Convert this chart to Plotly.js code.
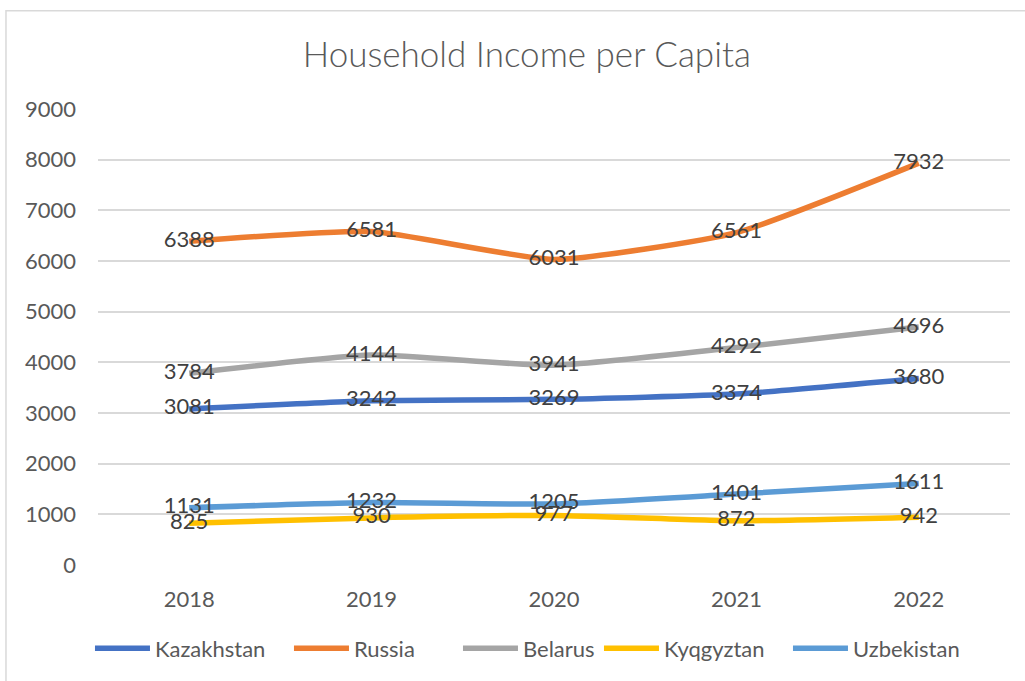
<!DOCTYPE html>
<html>
<head>
<meta charset="utf-8">
<script src="https://cdn.plot.ly/plotly-3.0.1.min.js"></script>
<style>
html,body{margin:0;padding:0;background:#fff;}
#chart{width:1025px;height:681px;}
</style>
</head>
<body>
<div id="chart"></div>
<script>
const years = ['2018', '2019', '2020', '2021', '2022'];
const kazakhstan = [3081, 3242, 3269, 3374, 3680];
const russia = [6388, 6581, 6031, 6561, 7932];
const belarus = [3784, 4144, 3941, 4292, 4696];
const kyqgyztan = [825, 930, 977, 872, 942];
const uzbekistan = [1131, 1232, 1205, 1401, 1611];

const seriesNames = ['Kazakhstan', 'Russia', 'Belarus', 'Kyqgyztan', 'Uzbekistan'];
const seriesValues = [kazakhstan, russia, belarus, kyqgyztan, uzbekistan];
const seriesColors = ['#4472C4', '#ED7D31', '#A5A5A5', '#FFC000', '#5B9BD5'];
const legendWidths = [129, 99, 71, 119, 110];

const FONT = 'Lato, "Open Sans", sans-serif';

const lineTraces = seriesNames.map((name, i) => ({
  type: 'scatter',
  mode: 'lines',
  name: name,
  x: years,
  y: seriesValues[i],
  line: {color: seriesColors[i], width: 5.5, shape: 'spline', smoothing: 0.5},
  legendwidth: legendWidths[i],
  hoverinfo: 'x+y+name'
}));

const labelTraces = seriesNames.map((name, i) => ({
  type: 'scatter',
  mode: 'text',
  x: years,
  y: seriesValues[i],
  text: seriesValues[i].map(String),
  textposition: 'middle center',
  textfont: {family: FONT, size: 22, color: '#404040'},
  showlegend: false,
  hoverinfo: 'skip'
}));

const layout = {
  width: 1025,
  height: 681,
  margin: {l: 98, r: 15, t: 109, b: 113},
  paper_bgcolor: '#ffffff',
  plot_bgcolor: '#ffffff',
  font: {family: FONT, color: '#595959'},
  title: {
    text: 'Household Income per Capita',
    font: {family: FONT, size: 35, color: '#595959', weight: 300},
    x: 0.514, xref: 'container', xanchor: 'center',
    y: 0.919, yref: 'container', yanchor: 'middle'
  },
  xaxis: {
    type: 'category',
    range: [-0.5, 4.5],
    showgrid: false,
    zeroline: false,
    showline: false,
    ticks: '',
    tickfont: {family: FONT, size: 22, color: '#595959'},
    ticklabelstandoff: 19,
    fixedrange: true
  },
  yaxis: {
    range: [0, 9000],
    dtick: 1000,
    tick0: 0,
    showgrid: true,
    gridcolor: '#d9d9d9',
    gridwidth: 1.5,
    zeroline: false,
    showline: false,
    ticks: '',
    tickformat: 'd',
    tickfont: {family: FONT, size: 22, color: '#595959'},
    ticklabelstandoff: 21,
    fixedrange: true
  },
  legend: {
    orientation: 'h',
    x: -0.0088, xanchor: 'left',
    y: -0.183, yanchor: 'middle',
    font: {family: FONT, size: 22, color: '#595959'},
    itemwidth: 55,
    traceorder: 'normal',
    bgcolor: 'rgba(0,0,0,0)'
  },
  shapes: [{
    type: 'rect', xref: 'paper', yref: 'paper',
    x0: -0.1009, x1: 1.03, y0: -0.27, y1: 1.2157,
    line: {color: '#d9d9d9', width: 1.5},
    fillcolor: 'rgba(0,0,0,0)',
    layer: 'below'
  }],
  showlegend: true
};

Plotly.newPlot('chart', lineTraces.concat(labelTraces), layout, {displayModeBar: false});
</script>
</body>
</html>
